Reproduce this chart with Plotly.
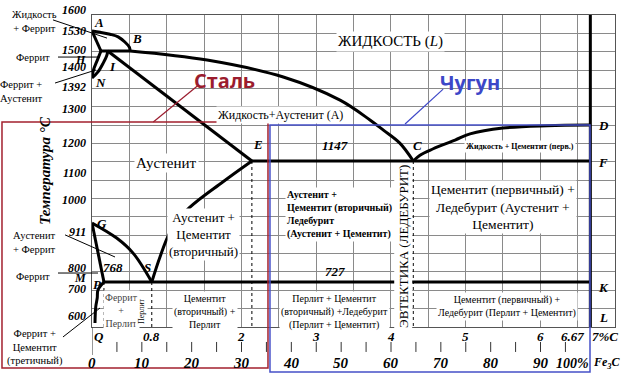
import numpy as np
import plotly.graph_objects as go

# ---------------- data ----------------
# printed (schematic) temperature scale of the diagram: temperature -> vertical position
SCALE_T = [550, 600, 727, 911, 1147, 1252, 1392, 1499, 1530, 1600]
SCALE_S = [327, 316, 282, 223, 161, 125, 78, 51, 31, 10]
Y_BOTTOM, Y_TOP = 327, 15

# phase-boundary lines (%C, °C)
AB_C = [0, 0.11, 0.24, 0.35, 0.44, 0.50, 0.51]
AB_T = [1530, 1528, 1525, 1521, 1513, 1505, 1499]
AH_C = [0, 0.12]
AH_T = [1530, 1499]
HB_C = [0.12, 0.51]
HB_T = [1499, 1499]
HN_C = [0.12, 0.07, 0.02, 0]
HN_T = [1499, 1462, 1424, 1392]
JN_C = [0.21, 0.20, 0.15, 0.08, 0]
JN_T = [1499, 1483, 1451, 1416, 1392]
JE_C = [0.21, 2.14]
JE_T = [1499, 1147]
BC_C = [0.51, 1.54, 2.56, 3.32, 3.72, 3.90, 4.12, 4.3]
BC_T = [1499, 1463, 1396, 1326, 1267, 1237, 1199, 1147]
CD_C = [4.3, 4.39, 4.56, 4.86, 5.06, 5.50, 6.09, 6.67]
CD_T = [1147, 1164, 1182, 1208, 1226, 1243, 1250, 1252]
ECF_C = [2.14, 6.67]
ECF_T = [1147, 1147]
ES_C = [2.14, 1.75, 1.27, 1.04, 0.91, 0.8]
ES_T = [1147, 1067, 960, 880, 805, 727]
GS_C = [0, 0.33, 0.55, 0.8]
GS_T = [911, 864, 817, 727]
GP_C = [0, 0.16]
GP_T = [911, 727]
PSK_C = [0.16, 6.67]
PSK_T = [727, 727]
PQ_C = [0.16, 0.08, 0.07, 0.05, 0.04]
PQ_T = [727, 697, 667, 634, 568]
DL_C = [6.67, 6.67]
DL_T = [1583, 550]

# dotted verticals: (%C, top temperature)
DOT_C = [0.16, 0.8, 2.14, 4.3]
DOT_T = [727, 727, 1147, 1147]

# axis labels
TEMP_TICKS = ["1600", "1530", "1500", "H", "1400", "1392", "1300", "1200", "1100",
              "1000", "911", "800", "M", "700", "600"]
TEMP_TICK_T = [1600, 1530, 1500, 1499, 1400, 1392, 1300, 1200, 1100, 1000, 911, 800, 768, 700, 600]
C_LABELS = ["Q", "0.8", "2", "3", "4", "5", "6"]
C_LABEL_X = [0.09, 0.8, 2, 3, 4, 5, 6]
FE3C_LABELS = ["0", "10", "20", "30", "40", "50", "60", "70", "80", "90"]
FE3C_VALUES = [0, 10, 20, 30, 40, 50, 60, 70, 80, 90]
FE3C_TICKS = list(range(5, 100, 5))
C_EUTECTOID = 6.67


def s(t):
    return float(np.interp(t, SCALE_T, SCALE_S))


def sl(ts):
    return [s(t) for t in ts]


def yp(t):
    # temperature -> paper fraction of the plot height
    return (Y_BOTTOM - s(t)) / (Y_BOTTOM - Y_TOP)


fig = go.Figure()

thick = [(AB_C, AB_T, "spline"), (AH_C, AH_T, "linear"), (HB_C, HB_T, "linear"),
         (HN_C, HN_T, "spline"), (JN_C, JN_T, "spline"), (JE_C, JE_T, "linear"),
         (BC_C, BC_T, "spline"), (CD_C, CD_T, "spline"), (ECF_C, ECF_T, "linear"),
         (ES_C, ES_T, "spline"), (GS_C, GS_T, "spline"), (GP_C, GP_T, "linear"),
         (PSK_C, PSK_T, "linear"), (PQ_C, PQ_T, "spline"), (DL_C, DL_T, "linear")]
for cx, ct, shp in thick:
    fig.add_trace(go.Scatter(x=cx, y=sl(ct), mode="lines", hoverinfo="skip",
                             line=dict(color="black", width=3, shape=shp)))

for cx, ct in zip(DOT_C, DOT_T):
    fig.add_trace(go.Scatter(x=[cx, cx], y=[s(ct), s(550)], mode="lines", hoverinfo="skip",
                             line=dict(color="black", width=1, dash="dot")))

SERIF = "Liberation Serif"
ann = []


def lab(text, x, t, size=12, xref="x", yref="y", bg="white", color="black", **kw):
    d = dict(text=text, x=x, y=(s(t) if yref == "y" else t), xref=xref, yref=yref,
             showarrow=False, font=dict(family=SERIF, size=size, color=color),
             bgcolor=bg, borderpad=1, xanchor="center", yanchor="middle")
    d.update(kw)
    ann.append(d)


def bi(t):
    return "<b><i>" + t + "</i></b>"


NOBG = "rgba(0,0,0,0)"

# region labels
lab("ЖИДКОСТЬ (<i>L</i>)", 4.0, 1513, 15)
lab("Жидкость+Аустенит (А)", 2.52, 1282, 12)
lab("Аустенит", 1.0, 1139, 15)
lab("Аустенит +<br>Цементит<br>(вторичный)", 1.49, 874, 13)
lab("<b>Аустенит +<br>Цементит (вторичный) +<br>Ледебурит<br>(Аустенит + Цементит)</b>",
    2.58, 945, 10, xanchor="left", align="left")
lab("ЭВТЕКТИКА (ЛЕДЕБУРИТ)", 4.16, 839, 13, textangle=-90)
lab("Цементит (первичный) +<br>Ледебурит (Аустенит +<br>Цементит)", 5.5, 972, 13.5)
lab("<b>Жидкость + Цементит (перв.)</b>", 5.73, 1188, 8)
lab("Перлит + Цементит<br>(вторичный) +Ледебурит<br>(Перлит + Цементит)", 3.25, 615, 10)
lab("Цементит (первичный) +<br>Ледебурит (Перлит + Цементит)", 5.56, 637, 10)
lab("Цементит<br>(вторичный) +<br>Перлит", 1.51, 615, 10)
lab("Феррит<br>+<br>Перлит", 0.40, 619, 10, color="#444")
lab("Перлит", 0.67, 615, 8, textangle=-90)

# point labels
for txt, cx, t in [("A", 0.09, 1557), ("B", 0.60, 1519), ("I", 0.27, 1436), ("N", 0.11, 1380),
                   ("E", 2.22, 1194), ("C", 4.35, 1191), ("1147", 3.25, 1191), ("G", 0.13, 911),
                   ("768", 0.28, 771), ("S", 0.74, 771), ("P", 0.07, 716), ("727", 3.25, 761),
                   ("D", 6.84, 1252), ("F", 6.84, 1143), ("K", 6.84, 708), ("L", 6.84, 591)]:
    lab(bi(txt), cx, t, 13, bg=NOBG)

# temperature axis labels (paper-referenced so that the ones above the grid are drawn)
anchors = {"H": "top", "1400": "bottom", "1392": "top", "911": "top", "800": "top", "M": "top"}
for txt, t in zip(TEMP_TICKS, TEMP_TICK_T):
    lab(bi(txt), -0.008, yp(t), 12, xref="paper", yref="paper", bg=NOBG, xanchor="right",
        yanchor=anchors.get(txt, "middle"))

lab(bi("Температура °С"), -0.09, 1113, 15, xref="paper", bg=NOBG, textangle=-90)

# left side legend labels
lab("Жидкость<br>+ Феррит", -0.109, yp(1563), 10.5, xref="paper", yref="paper", bg=NOBG)
lab("Феррит", -0.113, 1475, 10.5, xref="paper", bg=NOBG)
lab("Феррит +<br>Аустенит", -0.134, 1353, 10.5, xref="paper", bg=NOBG)
lab("Аустенит<br>+ Феррит", -0.109, 849, 10.5, xref="paper", bg=NOBG)
lab("Феррит", -0.113, 743, 10.5, xref="paper", bg=NOBG)
lab("Феррит +<br>Цементит<br>(третичный)", -0.109, -0.067, 10.5, xref="paper", yref="paper",
    bg=NOBG)

# %C and Fe3C scales under the grid
for txt, cx in zip(C_LABELS, C_LABEL_X):
    lab(bi(txt), cx, -0.032, 13, yref="paper", bg=NOBG)
lab(bi("6.67"), C_EUTECTOID, -0.032, 13, yref="paper", bg=NOBG, xanchor="right", xshift=-4)
lab(bi("7%C"), 1.0096, -0.032, 13, xref="paper", yref="paper", bg=NOBG, xanchor="right")
for txt, v in zip(FE3C_LABELS, FE3C_VALUES):
    lab(bi(txt), v * C_EUTECTOID / 100, -0.1154, 15, yref="paper", bg=NOBG)
lab(bi("100%"), C_EUTECTOID, -0.1154, 14, yref="paper", bg=NOBG, xanchor="right", xshift=1)
lab(bi("Fe<sub>3</sub>C"), C_EUTECTOID, -0.1154, 12, yref="paper", bg=NOBG, xanchor="left",
    xshift=1)

# steel / cast iron labels
ann.append(dict(text="<b>Сталь</b>", x=1.78, y=s(1386), xref="x", yref="y", showarrow=False,
                font=dict(family="Open Sans", size=20, color="#9b1c2e")))
ann.append(dict(text="<b>Чугун</b>", x=5.06, y=s(1380), xref="x", yref="y", showarrow=False,
                font=dict(family="Open Sans", size=20, color="#3d47c8")))

shapes = []
for f in FE3C_TICKS:
    cx = f * C_EUTECTOID / 100
    shapes.append(dict(type="line", xref="x", yref="paper", x0=cx, x1=cx, y0=-0.048, y1=-0.080,
                       line=dict(color="#333", width=1)))
shapes.append(dict(type="line", xref="x", yref="paper", x0=0, x1=0, y0=0, y1=-0.0897,
                   line=dict(color="#333", width=1)))

# thin pointer lines
for x0, x1, t0, t1 in [(-0.0746, 0.0287, 1567, 1519), (-0.065, 0.0153, 1475, 1475),
                       (-0.0707, 0.0076, 1377, 1424), (-0.0516, 0.044, 874, 805),
                       (-0.065, 0.0115, 755, 755)]:
    shapes.append(dict(type="line", xref="paper", yref="y", x0=x0, x1=x1, y0=s(t0), y1=s(t1),
                       line=dict(color="black", width=1)))
shapes.append(dict(type="line", xref="paper", yref="paper", x0=-0.0555, x1=0.0153, y0=-0.032,
                   y1=0.0609, line=dict(color="black", width=1)))
shapes.append(dict(type="line", xref="x", yref="y", x0=0.82, x1=1.41, y0=s(1261), y1=s(1368),
                   line=dict(color="#9b1c2e", width=1.2)))
shapes.append(dict(type="line", xref="x", yref="y", x0=4.19, x1=4.70, y0=s(1255), y1=s(1359),
                   line=dict(color="#3d47c8", width=1.2)))

# steel / cast iron frames
shapes.append(dict(type="rect", xref="paper", yref="paper", x0=-0.1721, x1=0.3365, y0=-0.1314,
                   y1=0.657, line=dict(color="#a3202e", width=1.5)))
shapes.append(dict(type="rect", xref="paper", yref="paper", x0=0.3403, x1=0.9522, y0=-0.1442,
                   y1=0.6474, line=dict(color="#4650c8", width=1.5)))

fig.update_layout(
    width=624, height=377, margin=dict(l=92, r=9, t=15, b=50),
    plot_bgcolor="white", paper_bgcolor="white", showlegend=False,
    annotations=ann, shapes=shapes,
    xaxis=dict(range=[0, 7], tick0=0, dtick=0.5, showgrid=True, gridcolor="#8a8a8a", gridwidth=1,
               showticklabels=False, ticks="", zeroline=False, showline=True, linecolor="#555",
               linewidth=1, mirror=True),
    yaxis=dict(range=[Y_BOTTOM, Y_TOP], tickmode="linear", tick0=Y_TOP, dtick=(Y_BOTTOM - Y_TOP) / 17,
               showgrid=True, gridcolor="#8a8a8a", gridwidth=1, showticklabels=False, ticks="",
               zeroline=False, showline=True, linecolor="#555", linewidth=1, mirror=True),
)

fig.write_html("out.html", config={"displayModeBar": False},
               post_script="document.body.style.margin='0';document.body.style.overflow='hidden';")
